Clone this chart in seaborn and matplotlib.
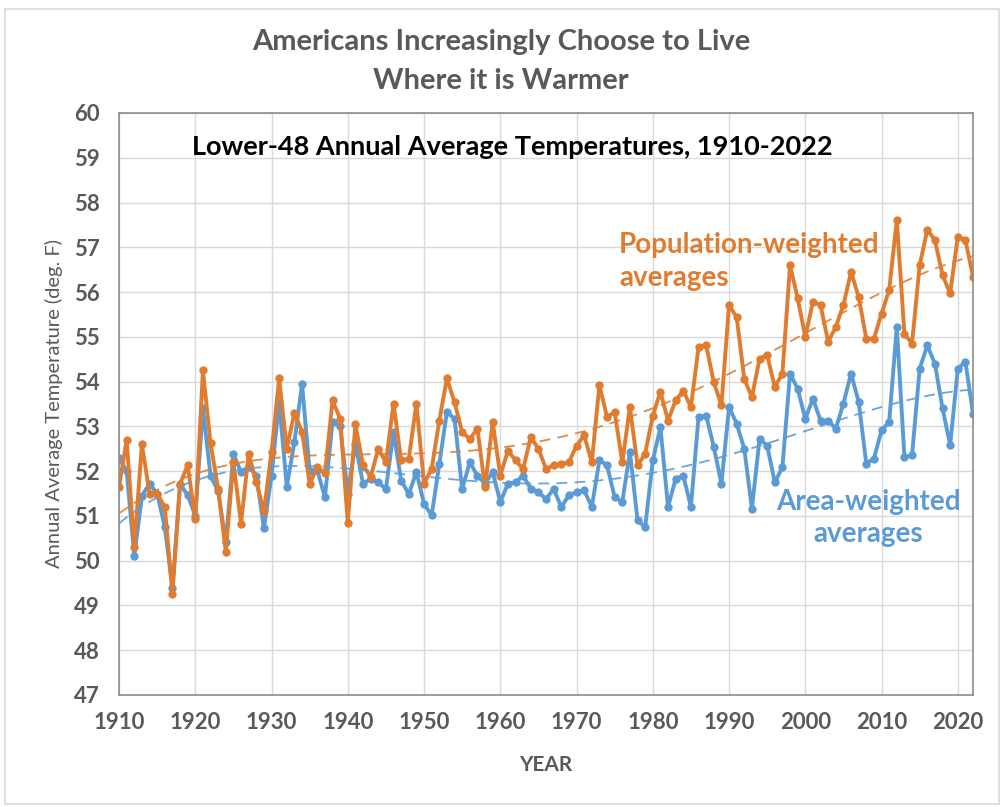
import numpy as np
import pandas as pd
import matplotlib
matplotlib.use('Agg')
import matplotlib.pyplot as plt
import seaborn as sns

# data (deg F), 1910-2022
years = list(range(1910, 2023))

pop_weighted = [
    51.65, 52.70, 50.30, 52.60, 51.50, 51.50, 51.20, 49.25, 51.72, 52.13,
    50.92, 54.25, 52.62, 51.60, 50.20, 52.20, 50.83, 52.39, 51.76, 51.10,
    52.43, 54.07, 52.50, 53.30, 52.88, 51.72, 52.09, 51.95, 53.58, 53.17,
    50.85, 53.05, 52.13, 51.87, 52.50, 52.20, 53.51, 52.24, 52.28, 53.51,
    51.72, 52.05, 53.13, 54.07, 53.54, 52.87, 52.72, 52.95, 51.64, 53.10,
    51.90, 52.46, 52.24, 52.05, 52.76, 52.50, 52.05, 52.13, 52.16, 52.20,
    52.57, 52.80, 52.20, 53.92, 53.21, 53.32, 52.20, 53.43, 52.13, 52.39,
    53.24, 53.77, 53.13, 53.58, 53.80, 53.43, 54.77, 54.81, 53.99, 53.47,
    55.71, 55.44, 54.06, 53.65, 54.51, 54.59, 53.88, 54.18, 56.60, 55.86,
    55.00, 55.78, 55.71, 54.89, 55.22, 55.71, 56.45, 55.89, 54.96, 54.96,
    55.52, 56.04, 57.61, 55.07, 54.85, 56.60, 57.39, 57.16, 56.38, 55.97,
    57.24, 57.16, 56.34,
]

area_weighted = [
    52.30, 52.00, 50.10, 51.45, 51.72, 51.50, 50.75, 49.40, 51.70, 51.47,
    51.00, 53.40, 51.90, 51.55, 50.41, 52.38, 51.98, 52.10, 51.90, 50.73,
    51.90, 53.55, 51.65, 52.65, 53.95, 52.00, 52.02, 51.42, 53.10, 53.00,
    51.50, 52.60, 51.72, 51.83, 51.75, 51.60, 52.87, 51.79, 51.49, 51.98,
    51.27, 51.01, 52.16, 53.32, 53.17, 51.60, 52.20, 51.90, 51.72, 51.98,
    51.31, 51.72, 51.75, 51.90, 51.60, 51.53, 51.38, 51.60, 51.20, 51.46,
    51.53, 51.57, 51.20, 52.24, 52.13, 51.42, 51.31, 52.43, 50.90, 50.75,
    52.24, 52.98, 51.20, 51.83, 51.90, 51.20, 53.21, 53.24, 52.54, 51.72,
    53.43, 53.06, 52.50, 51.16, 52.72, 52.57, 51.75, 52.09, 54.18, 53.84,
    53.17, 53.62, 53.13, 53.13, 52.95, 53.51, 54.18, 53.55, 52.17, 52.28,
    52.91, 53.10, 55.22, 52.31, 52.35, 54.29, 54.81, 54.40, 53.40, 52.58,
    54.29, 54.44, 53.28,
]

series_names = ['Population-weighted', 'Area-weighted']
x_ticks = list(range(1910, 2021, 10))
y_ticks = list(range(47, 61))

orange = '#E07C30'
blue = '#5B9BD5'
grey_txt = '#595959'

df = pd.DataFrame({
    'year': years * 2,
    'temp': pop_weighted + area_weighted,
    'series': [series_names[0]] * len(years) + [series_names[1]] * len(years),
})

sns.set_style('whitegrid')
plt.rcParams['font.family'] = ['Lato', 'DejaVu Sans']

fig = plt.figure(figsize=(10.02, 8.07), dpi=100)
ax = fig.add_axes([0.1188, 0.1388, 0.8523, 0.7212])

sns.lineplot(data=df, x='year', y='temp', hue='series',
             palette={series_names[0]: orange, series_names[1]: blue},
             hue_order=[series_names[1], series_names[0]],
             marker='o', markersize=6, markeredgewidth=0, linewidth=2.8,
             legend=False, ax=ax)

# polynomial trend lines (dashed), fitted on the same data
for name, col in [(series_names[1], blue), (series_names[0], orange)]:
    sub = df[df['series'] == name]
    sns.regplot(data=sub, x='year', y='temp', scatter=False, ci=None, order=4,
                truncate=True, ax=ax,
                line_kws={'color': col, 'lw': 1.3, 'ls': (0, (6, 4)), 'alpha': 0.9})

ax.set_xlim(1910, 2022)
ax.set_ylim(47, 60)
ax.set_xticks(x_ticks)
ax.set_yticks(y_ticks)
ax.grid(True, color='#D9D9D9', lw=1.0)
for s in ax.spines.values():
    s.set_color('#8C8C8C')
    s.set_linewidth(1.2)
ax.tick_params(axis='both', labelsize=16, colors=grey_txt, length=0)
ax.tick_params(axis='y', pad=14)
ax.tick_params(axis='x', pad=12)
for lab in ax.get_xticklabels() + ax.get_yticklabels():
    lab.set_fontweight('bold')
ax.set_xlabel('YEAR', fontsize=15, fontweight='bold', color=grey_txt, labelpad=16)
ax.set_ylabel('Annual Average Temperature (deg. F)', fontsize=14.5,
              color=grey_txt, labelpad=8)

fig.text(0.5, 0.948, 'Americans Increasingly Choose to Live', ha='center', va='center',
         fontsize=21, fontweight='bold', color=grey_txt)
fig.text(0.5, 0.900, 'Where it is Warmer', ha='center', va='center',
         fontsize=21, fontweight='bold', color=grey_txt)

ax.text(1919.6, 59.25, 'Lower-48 Annual Average Temperatures, 1910-2022',
        ha='left', va='center', fontsize=19.5, fontweight='bold', color='black')
ax.text(1975.6, 56.68, 'Population-weighted\naverages', ha='left', va='center',
        fontsize=20, fontweight='bold', color=orange, linespacing=1.3,
        multialignment='left')
ax.text(2008.3, 50.95, 'Area-weighted\naverages', ha='center', va='center',
        fontsize=20, fontweight='bold', color=blue, linespacing=1.3)

fig.patches.append(plt.Rectangle((0.005, 0.004), 0.992, 0.985, transform=fig.transFigure,
                                 fill=False, edgecolor='#D9D9D9', lw=1.2))

fig.savefig('out.png', dpi=100)
